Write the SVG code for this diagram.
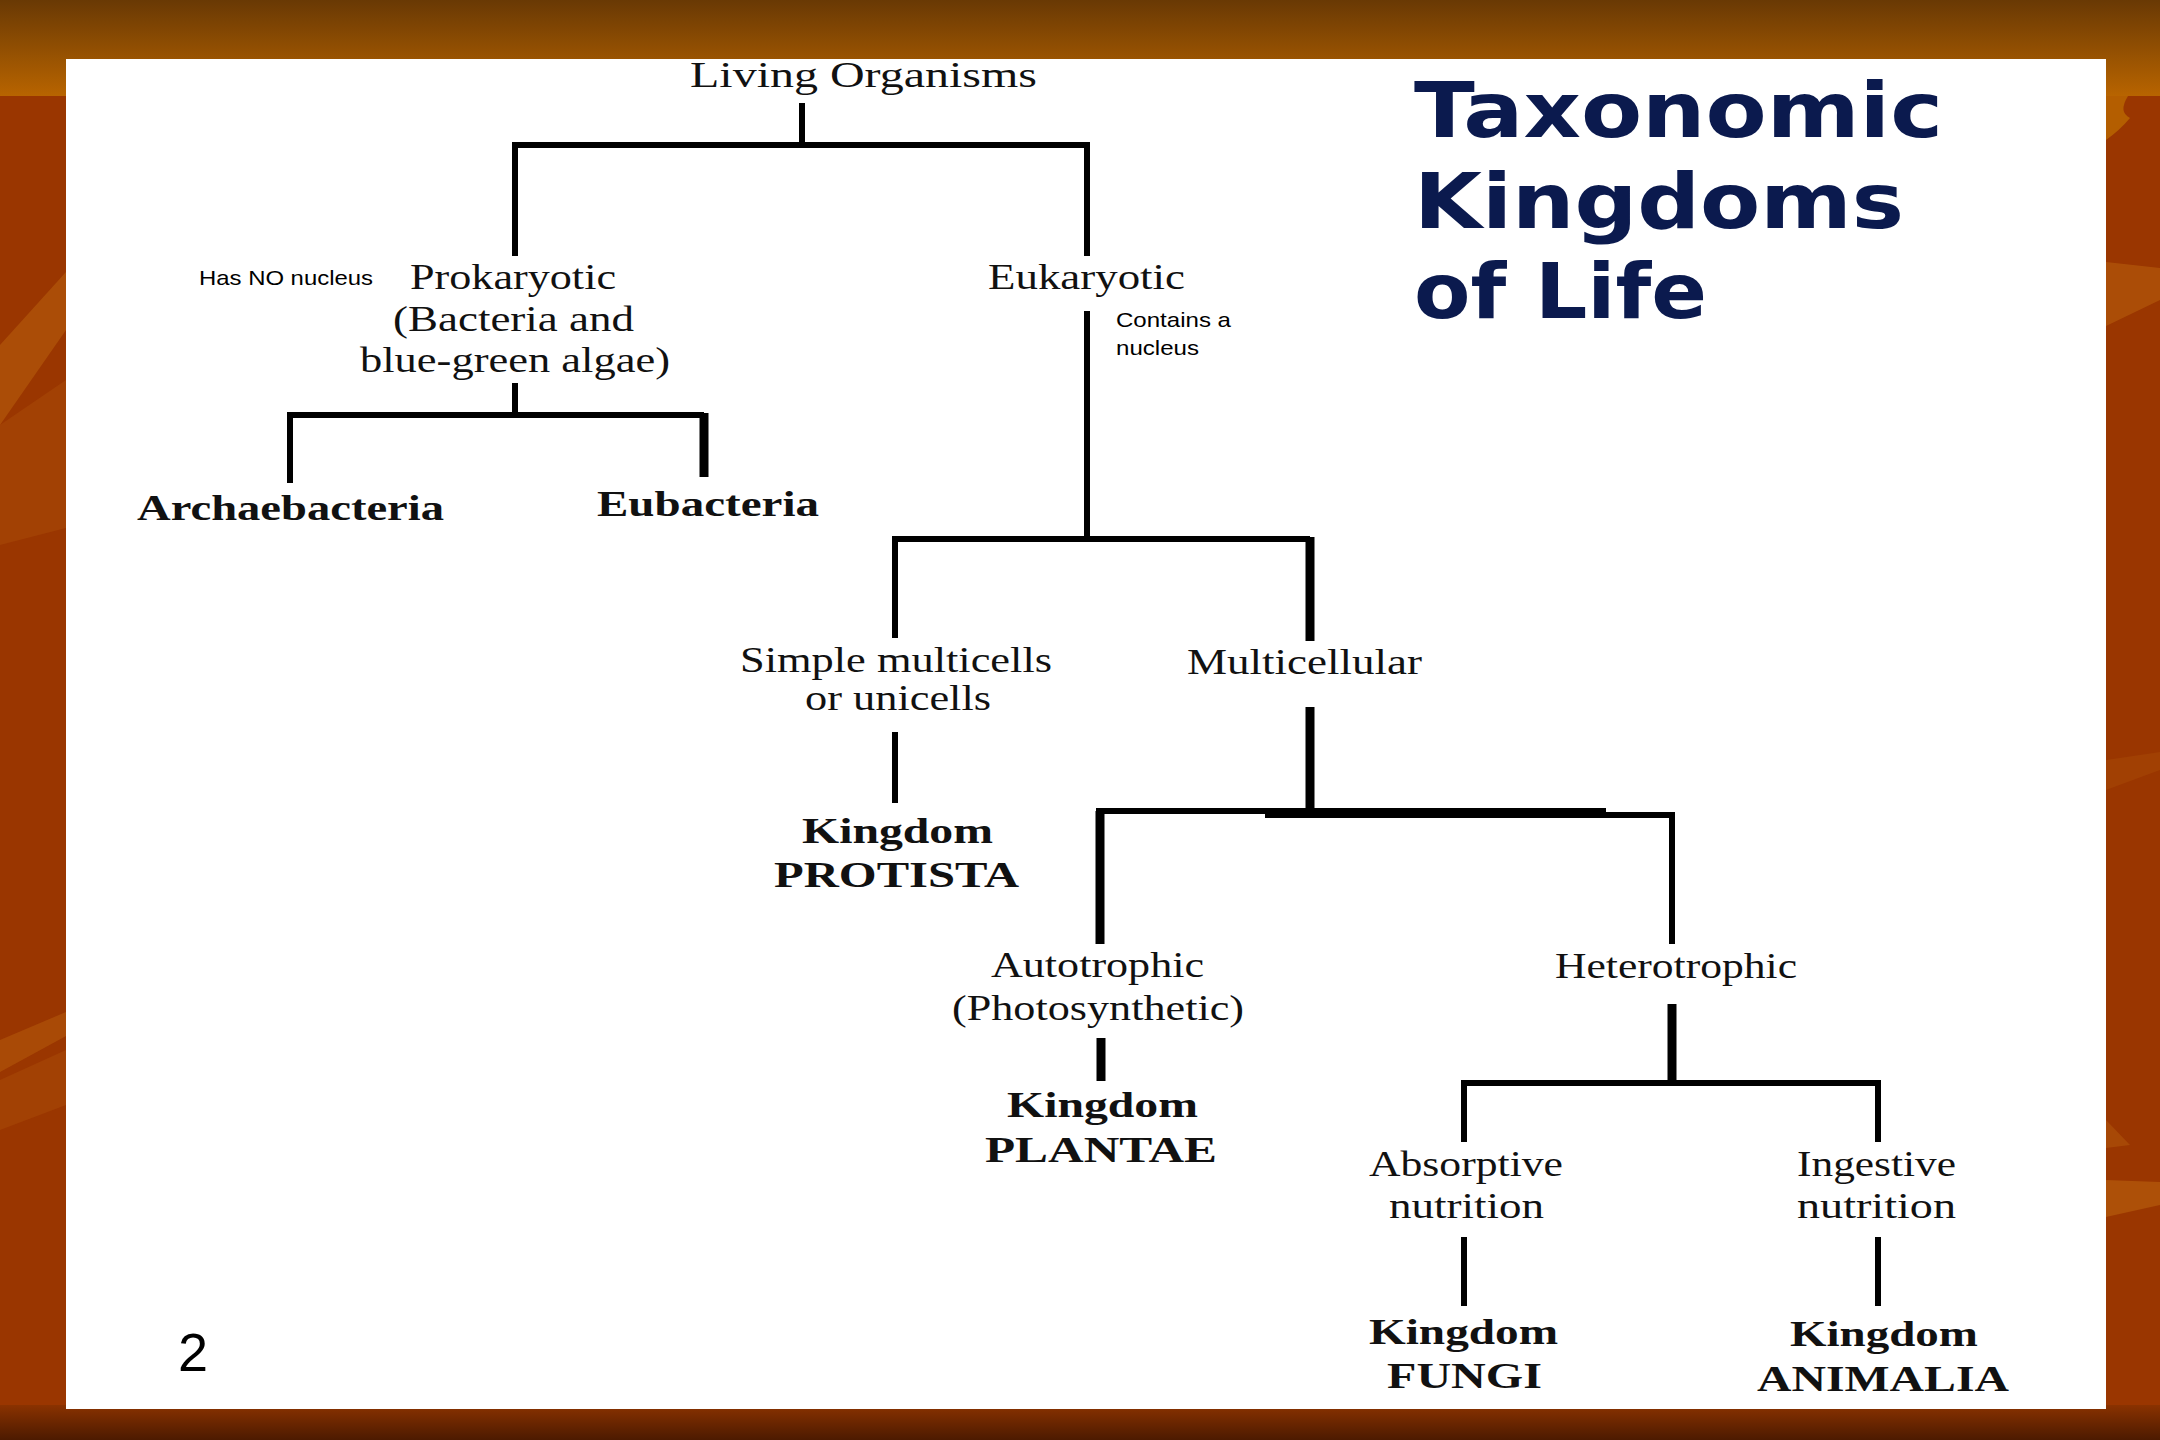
<svg xmlns="http://www.w3.org/2000/svg" width="2160" height="1440" viewBox="0 0 2160 1440">
<defs>
<linearGradient id="topband" x1="0" y1="0" x2="0" y2="1">
<stop offset="0" stop-color="#693904"/>
<stop offset="1" stop-color="#b86400"/>
</linearGradient>
<linearGradient id="botband" x1="0" y1="0" x2="0" y2="1">
<stop offset="0" stop-color="#8a3200"/>
<stop offset="1" stop-color="#4c1a00"/>
</linearGradient>
<style>
.rs{font-family:"Liberation Serif","Times New Roman",serif;font-size:36px;fill:#111}
.bs{font-family:"Liberation Serif","Times New Roman",serif;font-size:36px;font-weight:bold;fill:#111}
.ss{font-family:"Liberation Sans",Arial,sans-serif;font-size:21px;fill:#000}
.tt{font-family:"DejaVu Sans",Verdana,sans-serif;font-size:77px;font-weight:bold;fill:#0b1a4e}
.ln{fill:none;stroke:#000;stroke-width:6;stroke-linejoin:miter;stroke-linecap:butt}
.thk{fill:none;stroke:#000;stroke-width:9;stroke-linecap:butt}
.streak{fill:#c06a10}
</style>
</defs>
<g id="background">
<rect x="0" y="0" width="2160" height="1440" fill="#9a3600"/>
<rect x="0" y="0" width="2160" height="96" fill="url(#topband)"/>
<path d="M2106,96 H2128 Q2118,112 2130,118 Q2120,130 2106,140 Z" fill="#b45e00"/>
<rect x="0" y="1405" width="2160" height="35" fill="url(#botband)"/>
<polygon class="streak" points="0,345 66,272 66,330 0,425" opacity="0.45"/>
<polygon class="streak" points="0,425 66,380 66,528 0,545" opacity="0.22"/>
<polygon class="streak" points="0,1040 66,1012 66,1036 0,1072" opacity="0.4"/>
<polygon class="streak" points="0,1080 66,1050 66,1105 0,1130" opacity="0.22"/>
<polygon class="streak" points="2106,262 2160,268 2160,300 2106,326" opacity="0.45"/>
<polygon class="streak" points="2106,760 2160,752 2160,770 2106,790" opacity="0.2"/>
<polygon class="streak" points="2106,1120 2130,1145 2106,1148" opacity="0.35"/>
<polygon class="streak" points="2106,1180 2160,1182 2160,1205 2106,1217" opacity="0.5"/>
<rect x="66" y="59" width="2040" height="1350" fill="#ffffff"/>
</g>
<g id="connectors">
<path class="ln" d="M802,103 V145"/>
<path class="ln" d="M515,256 V145 H1087 V256"/>
<path class="ln" d="M515,383 V415"/>
<path class="ln" d="M290,483 V415 H704"/>
<path class="thk" d="M704,413 V477"/>
<path class="ln" d="M1087,311 V539"/>
<path class="ln" d="M895,638 V539 H1310"/>
<path class="thk" d="M1310,537 V641"/>
<path class="ln" d="M895,732 V803"/>
<path class="thk" d="M1310,707 V812"/>
<path class="thk" d="M1100,944 V811"/>
<path class="ln" d="M1096,811 H1606"/>
<path class="ln" d="M1265,815 H1672 V944"/>
<path class="thk" d="M1101,1038 V1081"/>
<path class="thk" d="M1672,1004 V1083"/>
<path class="ln" d="M1464,1142 V1083 H1878 V1142"/>
<path class="ln" d="M1464,1237 V1306"/>
<path class="ln" d="M1878,1237 V1306"/>
</g>
<g id="title">
<text class="tt" x="1414" y="137" textLength="529" lengthAdjust="spacingAndGlyphs">Taxonomic</text>
<text class="tt" x="1414" y="228" textLength="490" lengthAdjust="spacingAndGlyphs">Kingdoms</text>
<text class="tt" x="1414" y="318" textLength="293" lengthAdjust="spacingAndGlyphs">of Life</text>
</g>
<g id="node-living">
<text class="rs" x="690" y="87" textLength="347" lengthAdjust="spacingAndGlyphs">Living Organisms</text>
</g>
<g id="node-prokaryotic">
<text class="ss" x="199" y="285" textLength="174" lengthAdjust="spacingAndGlyphs">Has NO nucleus</text>
<text class="rs" x="410" y="289" textLength="206" lengthAdjust="spacingAndGlyphs">Prokaryotic</text>
<text class="rs" x="393" y="331" textLength="241" lengthAdjust="spacingAndGlyphs">(Bacteria and</text>
<text class="rs" x="360" y="372" textLength="310" lengthAdjust="spacingAndGlyphs">blue-green algae)</text>
</g>
<g id="node-eukaryotic">
<text class="rs" x="988" y="289" textLength="197" lengthAdjust="spacingAndGlyphs">Eukaryotic</text>
<text class="ss" x="1116" y="327" textLength="115" lengthAdjust="spacingAndGlyphs">Contains a</text>
<text class="ss" x="1116" y="355" textLength="83" lengthAdjust="spacingAndGlyphs">nucleus</text>
</g>
<g id="node-archaebacteria">
<text class="bs" x="137" y="520" textLength="307" lengthAdjust="spacingAndGlyphs">Archaebacteria</text>
</g>
<g id="node-eubacteria">
<text class="bs" x="597" y="516" textLength="222" lengthAdjust="spacingAndGlyphs">Eubacteria</text>
</g>
<g id="node-simple">
<text class="rs" x="740" y="672" textLength="312" lengthAdjust="spacingAndGlyphs">Simple multicells</text>
<text class="rs" x="805" y="710" textLength="186" lengthAdjust="spacingAndGlyphs">or unicells</text>
</g>
<g id="node-multicellular">
<text class="rs" x="1187" y="674" textLength="235" lengthAdjust="spacingAndGlyphs">Multicellular</text>
</g>
<g id="node-protista">
<text class="bs" x="802" y="843" textLength="191" lengthAdjust="spacingAndGlyphs">Kingdom</text>
<text class="bs" x="774" y="887" textLength="245" lengthAdjust="spacingAndGlyphs">PROTISTA</text>
</g>
<g id="node-autotrophic">
<text class="rs" x="991" y="977" textLength="213" lengthAdjust="spacingAndGlyphs">Autotrophic</text>
<text class="rs" x="952" y="1020" textLength="292" lengthAdjust="spacingAndGlyphs">(Photosynthetic)</text>
</g>
<g id="node-plantae">
<text class="bs" x="1007" y="1117" textLength="191" lengthAdjust="spacingAndGlyphs">Kingdom</text>
<text class="bs" x="985" y="1162" textLength="232" lengthAdjust="spacingAndGlyphs">PLANTAE</text>
</g>
<g id="node-heterotrophic">
<text class="rs" x="1555" y="978" textLength="242" lengthAdjust="spacingAndGlyphs">Heterotrophic</text>
</g>
<g id="node-absorptive">
<text class="rs" x="1369" y="1176" textLength="194" lengthAdjust="spacingAndGlyphs">Absorptive</text>
<text class="rs" x="1389" y="1218" textLength="155" lengthAdjust="spacingAndGlyphs">nutrition</text>
</g>
<g id="node-ingestive">
<text class="rs" x="1797" y="1176" textLength="159" lengthAdjust="spacingAndGlyphs">Ingestive</text>
<text class="rs" x="1797" y="1218" textLength="159" lengthAdjust="spacingAndGlyphs">nutrition</text>
</g>
<g id="node-fungi">
<text class="bs" x="1369" y="1344" textLength="189" lengthAdjust="spacingAndGlyphs">Kingdom</text>
<text class="bs" x="1387" y="1388" textLength="155" lengthAdjust="spacingAndGlyphs">FUNGI</text>
</g>
<g id="node-animalia">
<text class="bs" x="1790" y="1346" textLength="188" lengthAdjust="spacingAndGlyphs">Kingdom</text>
<text class="bs" x="1757" y="1391" textLength="252" lengthAdjust="spacingAndGlyphs">ANIMALIA</text>
</g>
<g id="slide-number">
<text x="178" y="1371" style="font-family:'Liberation Sans',Arial,sans-serif;font-size:54px;fill:#000">2</text>
</g>
</svg>
